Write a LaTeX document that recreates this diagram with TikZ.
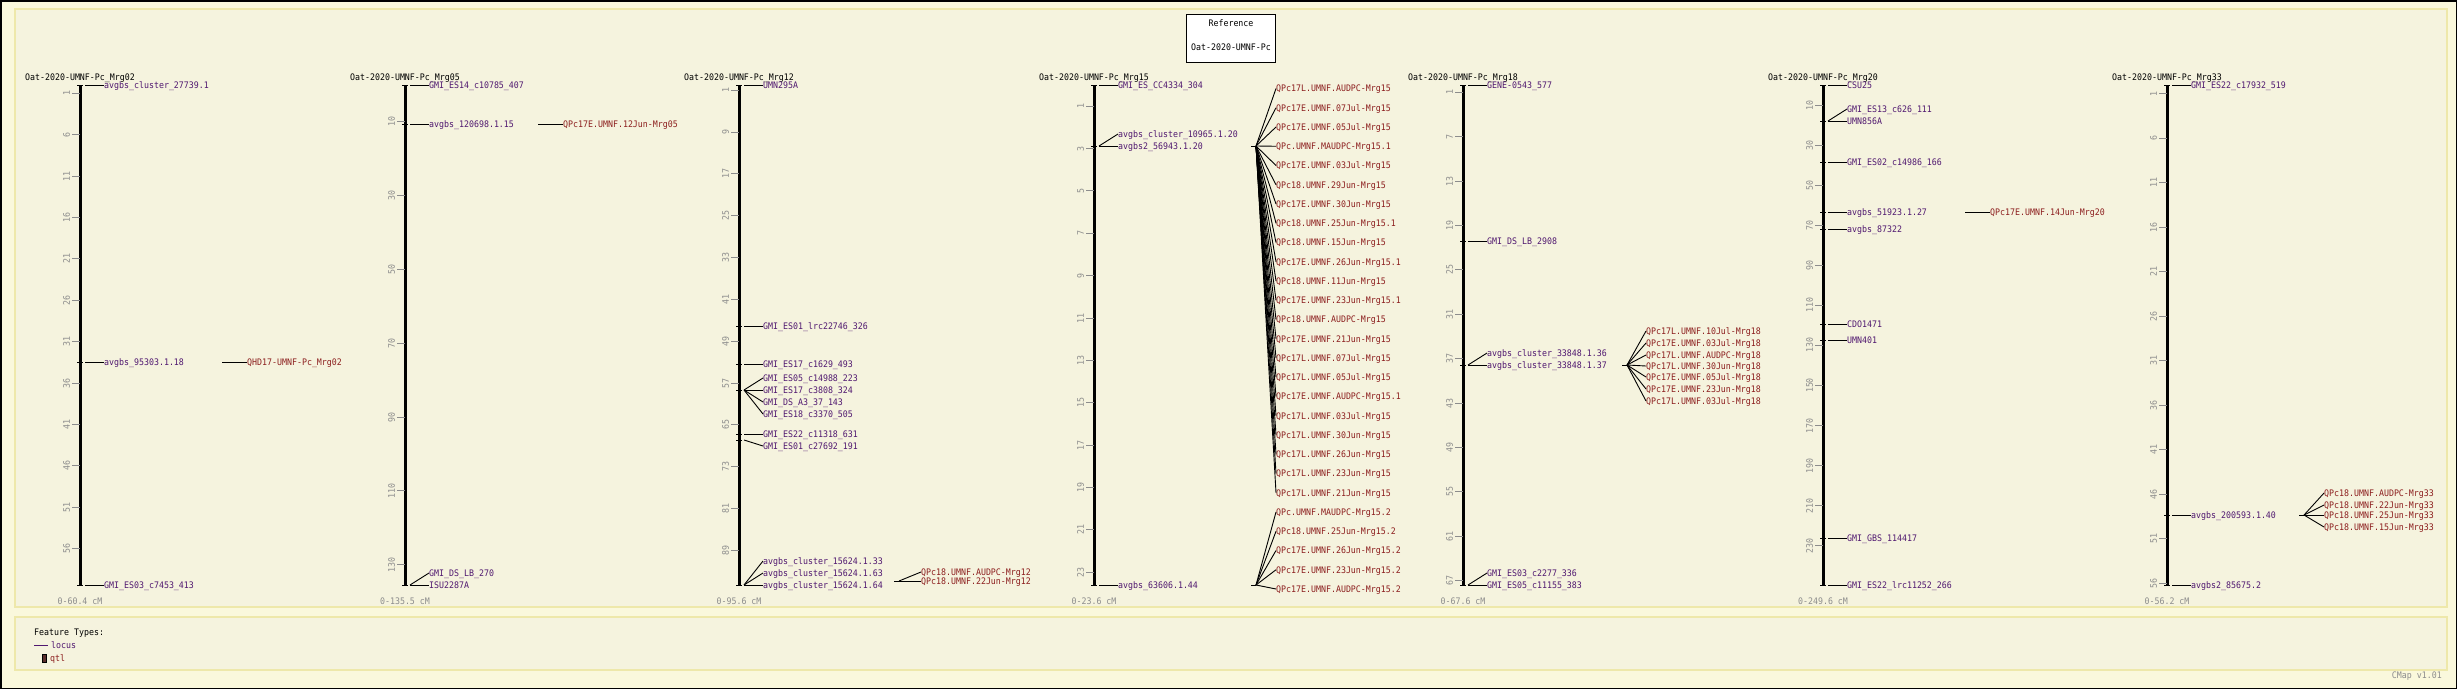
\documentclass[tikz,border=0pt]{standalone}
\usepackage{fontspec}
\newfontfamily\cmapfont[FakeStretch=0.92]{DejaVu Sans Mono}
\definecolor{outerbg}{RGB}{250,248,220}
\definecolor{panelbg}{RGB}{245,243,222}
\definecolor{panelborder}{RGB}{238,232,170}
\definecolor{markercol}{RGB}{80,24,112}
\definecolor{qtlcol}{RGB}{140,30,30}
\definecolor{tickgray}{RGB}{140,140,140}
\definecolor{qtlfill}{RGB}{90,46,46}
\tikzset{
  basetext/.style={font=\cmapfont\fontsize{9}{10}\selectfont, inner sep=0pt, text height=6.6pt, text depth=0pt},
  titlesty/.style={basetext, text=black},
  rangesty/.style={basetext, text=tickgray},
  ticklab/.style={basetext, text=tickgray, rotate=90, anchor=south},
  mlab/.style={basetext, text=markercol, anchor=west},
  qlab/.style={basetext, text=qtlcol, anchor=west},
  barsty/.style={line width=3pt, black},
  ticksty/.style={line width=1pt, tickgray},
  mtick/.style={line width=1pt, black},
  conn/.style={line width=0.9pt, black},
  panel/.style={fill=panelbg, draw=panelborder, line width=1.5pt}
}
% chromosome: #1 id, #2 bar x, #3 length, #4 title, #5 range, #6 first tick, #7 second tick, #8 last tick
\newcommand\chrom[8]{%
  \node[titlesty] (#1t) at (#2,77) {#4};
  \coordinate (#1top) at (#2,85);
  \coordinate (#1bot) at (#2,585);
  \draw[barsty] (#1top) -- (#1bot);
  \foreach \t in {#6,#7,...,#8} {
    \pgfmathsetmacro\ty{85+500*(\t/#3)}
    \draw[ticksty] ({#2-8},\ty) -- ({#2},\ty);
    \node[ticklab] (#1k\t) at ({#2-10},\ty) {\t};
  }
  \node[rangesty] (#1r) at (#2,601) {#5};
}
% marker: #1 name, #2 bar x, #3 position y, #4 label y, #5 text
\newcommand\mkr[5]{%
  \draw[mtick] ({#2-3},#3) -- ({#2+3},#3);
  \coordinate (#1a) at ({#2+5},#3);
  \node[mlab] (#1) at ({#2+24},#4) {#5};
  \draw[conn] (#1a) -- (#1.west);
}
% qtl origin: #1 name, #2 x, #3 y
\newcommand\qorig[3]{%
  \coordinate (#1s) at ({#2-5},#3);
  \coordinate (#1) at (#2,#3);
  \draw[conn] (#1s) -- (#1);
}
% qtl label: #1 name, #2 origin, #3 label x, #4 label y, #5 text
\newcommand\qtlab[5]{%
  \node[qlab] (#1) at (#3,#4) {#5};
  \draw[conn] (#2) -- (#1.west);
}
\begin{document}
\begin{tikzpicture}[x=1pt,y=-1pt]
\useasboundingbox (0,0) rectangle (2457,689);
\fill[outerbg] (0,0) rectangle (2457,689);
\draw[black, line width=1.5pt] (0.75,0.75) rectangle (2456.25,688.25);
\draw[panel] (15,9) rectangle (2447,607);
\draw[panel] (15,617) rectangle (2447,670);

% reference box
\node[draw=black, fill=white, line width=1pt, minimum width=89pt, minimum height=48pt, inner sep=0pt] (ref) at (1231,38) {};
\node[titlesty] (reft) at (1231,23) {Reference};
\node[titlesty] (refn) at (1231,47) {Oat-2020-UMNF-Pc};

% ---------- Mrg02 ----------
\chrom{ca}{80}{60.4}{Oat-2020-UMNF-Pc\_Mrg02}{0-60.4 cM}{1}{6}{56}
\mkr{ca1}{80}{85}{85}{avgbs\_cluster\_27739.1}
\mkr{ca2}{80}{362}{362}{avgbs\_95303.1.18}
\mkr{ca3}{80}{585}{585}{GMI\_ES03\_c7453\_413}
\qorig{qa}{227}{362}
\qtlab{qa1}{qa}{247}{362}{QHD17-UMNF-Pc\_Mrg02}

% ---------- Mrg05 ----------
\chrom{cb}{405}{135.5}{Oat-2020-UMNF-Pc\_Mrg05}{0-135.5 cM}{10}{30}{130}
\mkr{cb1}{405}{85}{85}{GMI\_ES14\_c10785\_407}
\mkr{cb2}{405}{124}{124}{avgbs\_120698.1.15}
\mkr{cb3}{405}{585}{573}{GMI\_DS\_LB\_270}
\mkr{cb4}{405}{585}{585}{ISU2287A}
\qorig{qb}{543}{124}
\qtlab{qb1}{qb}{563}{124}{QPc17E.UMNF.12Jun-Mrg05}

% ---------- Mrg12 ----------
\chrom{cc}{739}{95.6}{Oat-2020-UMNF-Pc\_Mrg12}{0-95.6 cM}{1}{9}{89}
\mkr{cc1}{739}{85}{85}{UMN295A}
\mkr{cc2}{739}{326}{326}{GMI\_ES01\_lrc22746\_326}
\mkr{cc3}{739}{364}{364}{GMI\_ES17\_c1629\_493}
\mkr{cc4}{739}{390}{378}{GMI\_ES05\_c14988\_223}
\mkr{cc5}{739}{390}{390}{GMI\_ES17\_c3808\_324}
\mkr{cc6}{739}{390}{402}{GMI\_DS\_A3\_37\_143}
\mkr{cc7}{739}{390}{414}{GMI\_ES18\_c3370\_505}
\mkr{cc8}{739}{434}{434}{GMI\_ES22\_c11318\_631}
\mkr{cc9}{739}{440}{446}{GMI\_ES01\_c27692\_191}
\mkr{cc10}{739}{585}{561}{avgbs\_cluster\_15624.1.33}
\mkr{cc11}{739}{585}{573}{avgbs\_cluster\_15624.1.63}
\mkr{cc12}{739}{585}{585}{avgbs\_cluster\_15624.1.64}
\qorig{qc}{899}{581}
\qtlab{qc1}{qc}{921}{572}{QPc18.UMNF.AUDPC-Mrg12}
\qtlab{qc2}{qc}{921}{581}{QPc18.UMNF.22Jun-Mrg12}

% ---------- Mrg15 ----------
\chrom{cd}{1094}{23.6}{Oat-2020-UMNF-Pc\_Mrg15}{0-23.6 cM}{1}{3}{23}
\mkr{cd1}{1094}{85}{85}{GMI\_ES\_CC4334\_304}
\mkr{cd2}{1094}{146}{134}{avgbs\_cluster\_10965.1.20}
\mkr{cd3}{1094}{146}{146}{avgbs2\_56943.1.20}
\mkr{cd4}{1094}{585}{585}{avgbs\_63606.1.44}
\qorig{qd}{1256}{146}
\qorig{qe}{1256}{585}
\foreach \i/\txt in {1/QPc17L.UMNF.AUDPC-Mrg15, 2/QPc17E.UMNF.07Jul-Mrg15, 3/QPc17E.UMNF.05Jul-Mrg15,
  4/QPc.UMNF.MAUDPC-Mrg15.1, 5/QPc17E.UMNF.03Jul-Mrg15, 6/QPc18.UMNF.29Jun-Mrg15,
  7/QPc17E.UMNF.30Jun-Mrg15, 8/QPc18.UMNF.25Jun-Mrg15.1, 9/QPc18.UMNF.15Jun-Mrg15,
  10/QPc17E.UMNF.26Jun-Mrg15.1, 11/QPc18.UMNF.11Jun-Mrg15, 12/QPc17E.UMNF.23Jun-Mrg15.1,
  13/QPc18.UMNF.AUDPC-Mrg15, 14/QPc17E.UMNF.21Jun-Mrg15, 15/QPc17L.UMNF.07Jul-Mrg15,
  16/QPc17L.UMNF.05Jul-Mrg15, 17/QPc17E.UMNF.AUDPC-Mrg15.1, 18/QPc17L.UMNF.03Jul-Mrg15,
  19/QPc17L.UMNF.30Jun-Mrg15, 20/QPc17L.UMNF.26Jun-Mrg15, 21/QPc17L.UMNF.23Jun-Mrg15,
  22/QPc17L.UMNF.21Jun-Mrg15} {
  \pgfmathsetmacro\qy{88.5+(\i-1)*19.25}
  \qtlab{qd\i}{qd}{1276}{\qy}{\txt}
}
\foreach \i/\txt in {23/QPc.UMNF.MAUDPC-Mrg15.2, 24/QPc18.UMNF.25Jun-Mrg15.2,
  25/QPc17E.UMNF.26Jun-Mrg15.2, 26/QPc17E.UMNF.23Jun-Mrg15.2, 27/QPc17E.UMNF.AUDPC-Mrg15.2} {
  \pgfmathsetmacro\qy{88.5+(\i-1)*19.25}
  \qtlab{qe\i}{qe}{1276}{\qy}{\txt}
}

% ---------- Mrg18 ----------
\chrom{cf}{1463}{67.6}{Oat-2020-UMNF-Pc\_Mrg18}{0-67.6 cM}{1}{7}{67}
\mkr{cf1}{1463}{85}{85}{GENE-0543\_577}
\mkr{cf2}{1463}{241}{241}{GMI\_DS\_LB\_2908}
\mkr{cf3}{1463}{365}{353}{avgbs\_cluster\_33848.1.36}
\mkr{cf4}{1463}{365}{365}{avgbs\_cluster\_33848.1.37}
\mkr{cf5}{1463}{585}{573}{GMI\_ES03\_c2277\_336}
\mkr{cf6}{1463}{585}{585}{GMI\_ES05\_c11155\_383}
\qorig{qf}{1627}{365}
\qtlab{qf1}{qf}{1646}{331}{QPc17L.UMNF.10Jul-Mrg18}
\qtlab{qf2}{qf}{1646}{343}{QPc17E.UMNF.03Jul-Mrg18}
\qtlab{qf3}{qf}{1646}{355}{QPc17L.UMNF.AUDPC-Mrg18}
\qtlab{qf4}{qf}{1646}{366}{QPc17L.UMNF.30Jun-Mrg18}
\qtlab{qf5}{qf}{1646}{377}{QPc17E.UMNF.05Jul-Mrg18}
\qtlab{qf6}{qf}{1646}{389}{QPc17E.UMNF.23Jun-Mrg18}
\qtlab{qf7}{qf}{1646}{401}{QPc17L.UMNF.03Jul-Mrg18}

% ---------- Mrg20 ----------
\chrom{cg}{1823}{249.6}{Oat-2020-UMNF-Pc\_Mrg20}{0-249.6 cM}{10}{30}{230}
\mkr{cg1}{1823}{85}{85}{CSU25}
\mkr{cg2}{1823}{121}{109}{GMI\_ES13\_c626\_111}
\mkr{cg3}{1823}{121}{121}{UMN856A}
\mkr{cg4}{1823}{162}{162}{GMI\_ES02\_c14986\_166}
\mkr{cg5}{1823}{212}{212}{avgbs\_51923.1.27}
\mkr{cg6}{1823}{229}{229}{avgbs\_87322}
\mkr{cg7}{1823}{324}{324}{CDO1471}
\mkr{cg8}{1823}{340}{340}{UMN401}
\mkr{cg9}{1823}{538}{538}{GMI\_GBS\_114417}
\mkr{cg10}{1823}{585}{585}{GMI\_ES22\_lrc11252\_266}
\qorig{qg}{1970}{212}
\qtlab{qg1}{qg}{1990}{212}{QPc17E.UMNF.14Jun-Mrg20}

% ---------- Mrg33 ----------
\chrom{ch}{2167}{56.2}{Oat-2020-UMNF-Pc\_Mrg33}{0-56.2 cM}{1}{6}{56}
\mkr{ch1}{2167}{85}{85}{GMI\_ES22\_c17932\_519}
\mkr{ch2}{2167}{515}{515}{avgbs\_200593.1.40}
\mkr{ch3}{2167}{585}{585}{avgbs2\_85675.2}
\qorig{qh}{2304}{515}
\qtlab{qh1}{qh}{2324}{493}{QPc18.UMNF.AUDPC-Mrg33}
\qtlab{qh2}{qh}{2324}{505}{QPc18.UMNF.22Jun-Mrg33}
\qtlab{qh3}{qh}{2324}{515}{QPc18.UMNF.25Jun-Mrg33}
\qtlab{qh4}{qh}{2324}{527}{QPc18.UMNF.15Jun-Mrg33}

% ---------- legend ----------
\node[titlesty, anchor=west] (ft) at (34,632) {Feature Types:};
\coordinate (lg1) at (34,645);
\coordinate (lg2) at (48,645);
\draw[markercol, line width=1pt] (lg1) -- (lg2);
\node[mlab] (lgl) at (51,645) {locus};
\draw[black, fill=qtlfill, line width=0.6pt] (42,654) rectangle (46,662);
\node[qlab] (lgq) at (50,658) {qtl};
\node[rangesty, anchor=east] (ver) at (2442,675) {CMap v1.01};
\end{tikzpicture}
\end{document}
